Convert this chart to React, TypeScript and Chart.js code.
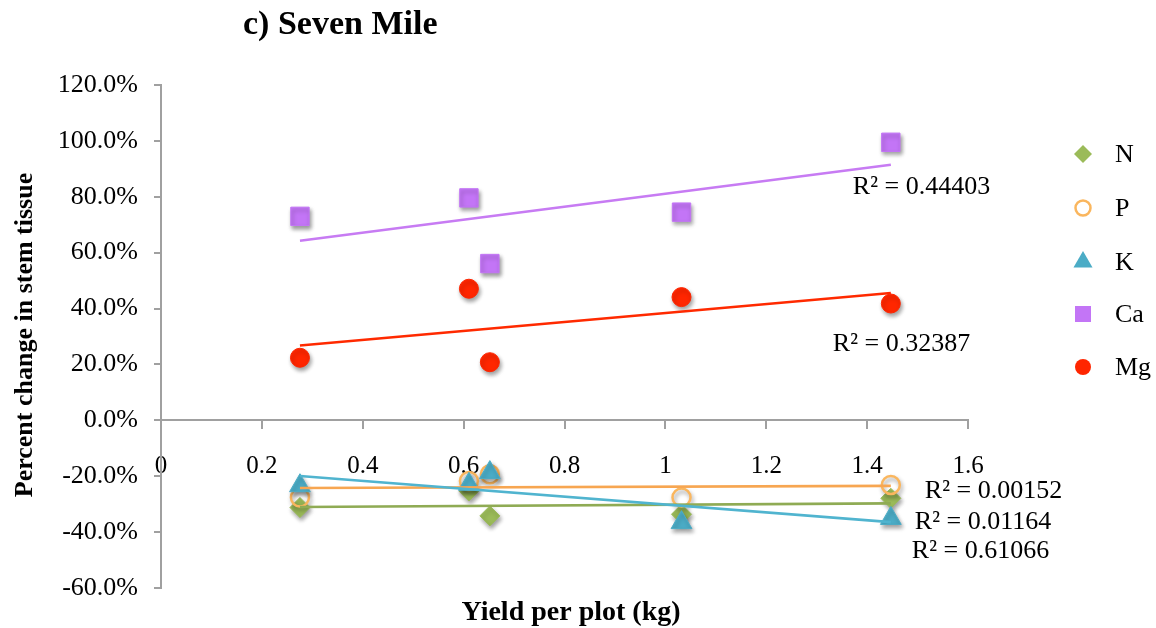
import React, { useEffect, useRef } from "react";
import { Chart, registerables } from "chart.js";

Chart.register(...registerables);

const SERIF = "'Liberation Serif', 'Times New Roman', Times, serif";

// Yield per plot (kg) for the five plots
const yieldKg = [0.2755, 0.6105, 0.652, 1.032, 1.447];

// Percent change in stem tissue for each nutrient
const nitrogen = [-31.2, -25.3, -34.2, -33.6, -27.9];
const phosphorus = [-27.6, -21.7, -19.3, -27.6, -23.1];
const potassium = [-23.4, -22.9, -18.7, -36.6, -35.1];
const calcium = [73.0, 79.6, 56.1, 74.5, 99.5];
const magnesium = [22.4, 47.1, 20.8, 44.1, 41.8];

const seriesNames = ["N", "P", "K", "Ca", "Mg"];
const rSquaredLabels = ["R² = 0.01164", "R² = 0.00152", "R² = 0.61066", "R² = 0.44403", "R² = 0.32387"];

const yMin = -60;
const yMax = 120;
const yStep = 20;
const xMin = 0;
const xMax = 1.6;
const xStep = 0.2;

type Style = {
  pointStyle: string;
  radius: number;
  fill: string;
  stroke: string;
  borderWidth: number;
  trend: string;
};

const styles: Style[] = [
  { pointStyle: "rectRot", radius: 10, fill: "#9BBB59", stroke: "#9BBB59", borderWidth: 1, trend: "#8FAB54" },
  { pointStyle: "circle", radius: 9, fill: "rgba(255,255,255,0)", stroke: "#FAB65E", borderWidth: 2.5, trend: "#F7A651" },
  { pointStyle: "triangle", radius: 12, fill: "#4BACC6", stroke: "#4BACC6", borderWidth: 1, trend: "#50B4CF" },
  { pointStyle: "rect", radius: 13, fill: "#C375F6", stroke: "#C375F6", borderWidth: 1, trend: "#C77BF3" },
  { pointStyle: "circle", radius: 9.5, fill: "#FF2600", stroke: "#FF2600", borderWidth: 1, trend: "#FF2A00" },
];

const seriesValues = [nitrogen, phosphorus, potassium, calcium, magnesium];

function linearFit(xs: number[], ys: number[]) {
  const n = xs.length;
  const mx = xs.reduce((a, b) => a + b, 0) / n;
  const my = ys.reduce((a, b) => a + b, 0) / n;
  let sxy = 0;
  let sxx = 0;
  for (let i = 0; i < n; i++) {
    sxy += (xs[i] - mx) * (ys[i] - my);
    sxx += (xs[i] - mx) * (xs[i] - mx);
  }
  const slope = sxy / sxx;
  const intercept = my - slope * mx;
  return (x: number) => intercept + slope * x;
}

function drawLegendMarker(ctx: CanvasRenderingContext2D, kind: number, x: number, y: number) {
  const s = styles[kind];
  ctx.save();
  ctx.fillStyle = s.fill;
  ctx.strokeStyle = s.stroke;
  ctx.beginPath();
  if (kind === 0) {
    const r = 9;
    ctx.moveTo(x, y - r);
    ctx.lineTo(x + r, y);
    ctx.lineTo(x, y + r);
    ctx.lineTo(x - r, y);
    ctx.closePath();
    ctx.fill();
  } else if (kind === 1) {
    ctx.lineWidth = 2.5;
    ctx.arc(x, y, 7.5, 0, Math.PI * 2);
    ctx.stroke();
  } else if (kind === 2) {
    const r = 11;
    ctx.moveTo(x, y - r);
    ctx.lineTo(x + r * Math.sin(Math.PI / 3), y + r / 2);
    ctx.lineTo(x - r * Math.sin(Math.PI / 3), y + r / 2);
    ctx.closePath();
    ctx.fill();
  } else if (kind === 3) {
    ctx.rect(x - 8, y - 8, 16, 16);
    ctx.fill();
  } else {
    ctx.arc(x, y, 8, 0, Math.PI * 2);
    ctx.fill();
  }
  ctx.restore();
}

// Label offsets (px) from the right end of each trend line
const labelOffsets = [
  { dx: 24, dy: 19 },
  { dx: 34, dy: 5 },
  { dx: 21, dy: 29 },
  { dx: -38, dy: 22 },
  { dx: -58, dy: 51 },
];

const fits = seriesValues.map((ys) => linearFit(yieldKg, ys));
const fitStart = Math.min(...yieldKg);
const fitEnd = Math.max(...yieldKg);

const overlayPlugin = {
  id: "overlay",
  beforeDatasetDraw(chart: any, args: any) {
    const ds = chart.data.datasets[args.index];
    if (ds.isTrend) return;
    const ctx = chart.ctx as CanvasRenderingContext2D;
    ctx.save();
    ctx.shadowColor = "rgba(0,0,0,0.38)";
    ctx.shadowBlur = 4;
    ctx.shadowOffsetX = 1.5;
    ctx.shadowOffsetY = 3;
  },
  afterDatasetDraw(chart: any, args: any) {
    const ds = chart.data.datasets[args.index];
    if (ds.isTrend) return;
    chart.ctx.restore();
  },
  afterDraw(chart: any) {
    const ctx = chart.ctx as CanvasRenderingContext2D;
    const xs = chart.scales.x;
    const ys = chart.scales.y;
    ctx.save();
    ctx.fillStyle = "#000";

    // Title
    ctx.font = `bold 34px ${SERIF}`;
    ctx.textAlign = "left";
    ctx.textBaseline = "middle";
    ctx.fillText("c) Seven Mile", 243, 25);

    // Axis titles
    ctx.font = `bold 28px ${SERIF}`;
    ctx.textAlign = "center";
    ctx.fillText("Yield per plot (kg)", 571, 613);

    ctx.save();
    ctx.translate(25, 335);
    ctx.rotate(-Math.PI / 2);
    ctx.font = `bold 26px ${SERIF}`;
    ctx.fillText("Percent change in stem tissue", 0, 0);
    ctx.restore();

    // R² labels beside each trend line
    ctx.font = `26px ${SERIF}`;
    ctx.textAlign = "left";
    fits.forEach((f, i) => {
      const px = xs.getPixelForValue(fitEnd) + labelOffsets[i].dx;
      const py = ys.getPixelForValue(f(fitEnd)) + labelOffsets[i].dy;
      ctx.fillText(rSquaredLabels[i], px, py);
    });

    // Legend
    const legendY = [154, 208, 262, 314, 367];
    seriesNames.forEach((name, i) => {
      drawLegendMarker(ctx, i, 1083, legendY[i]);
      ctx.fillStyle = "#000";
      ctx.font = `26px ${SERIF}`;
      ctx.textAlign = "left";
      ctx.textBaseline = "middle";
      ctx.fillText(name, 1115, legendY[i] + 1);
    });
    ctx.restore();
  },
};

export default function App() {
  const canvasRef = useRef<HTMLCanvasElement | null>(null);

  useEffect(() => {
    const canvas = canvasRef.current;
    if (!canvas) return;

    const markerSets = seriesValues.map((vals, i) => ({
      label: seriesNames[i],
      data: yieldKg.map((x, j) => ({ x, y: vals[j] })),
      pointStyle: styles[i].pointStyle,
      pointRadius: styles[i].radius,
      pointBackgroundColor: styles[i].fill,
      pointBorderColor: styles[i].stroke,
      pointBorderWidth: styles[i].borderWidth,
      showLine: false,
      order: 15 - i,
      isTrend: false,
    }));

    const trendSets = fits.map((f, i) => ({
      label: seriesNames[i] + " trend",
      data: [
        { x: fitStart, y: f(fitStart) },
        { x: fitEnd, y: f(fitEnd) },
      ],
      showLine: true,
      pointRadius: 0,
      borderColor: styles[i].trend,
      borderWidth: 2.6,
      order: 5 - i,
      isTrend: true,
    }));

    const chart = new Chart(canvas, {
      type: "scatter",
      data: { datasets: [...markerSets, ...trendSets] as any },
      plugins: [overlayPlugin as any],
      options: {
        animation: false,
        responsive: false,
        devicePixelRatio: 1,
        events: [],
        layout: { padding: { left: 0, top: 85, right: 188, bottom: 40 } },
        plugins: {
          legend: { display: false },
          tooltip: { enabled: false },
          title: { display: false },
        },
        scales: {
          x: {
            type: "linear",
            position: { y: 0 } as any,
            min: xMin,
            max: xMax,
            ticks: {
              stepSize: xStep,
              padding: 23,
              color: "#000",
              font: { family: SERIF, size: 25 },
              callback: (v: any) => String(Number(Number(v).toFixed(1))),
            },
            grid: {
              drawOnChartArea: false,
              drawTicks: true,
              tickLength: 8,
              color: "#A0A0A0",
              lineWidth: 2,
            },
            border: { display: true, color: "#A0A0A0", width: 2 },
          },
          y: {
            type: "linear",
            position: "left",
            min: yMin,
            max: yMax,
            afterFit: (scale: any) => {
              scale.width = 161;
            },
            ticks: {
              stepSize: yStep,
              padding: 16,
              color: "#000",
              font: { family: SERIF, size: 26 },
              callback: (v: any) => Number(v).toFixed(1) + "%",
            },
            grid: {
              drawOnChartArea: false,
              drawTicks: true,
              tickLength: 7,
              color: "#A0A0A0",
              lineWidth: 2,
            },
            border: { display: true, color: "#A0A0A0", width: 2 },
          },
        },
      },
    });

    return () => chart.destroy();
  }, []);

  return (
    <div style={{ position: "absolute", left: 0, top: 0, width: 1156, height: 628, background: "#fff" }}>
      <canvas ref={canvasRef} width={1156} height={628} style={{ display: "block", width: 1156, height: 628 }} />
    </div>
  );
}
